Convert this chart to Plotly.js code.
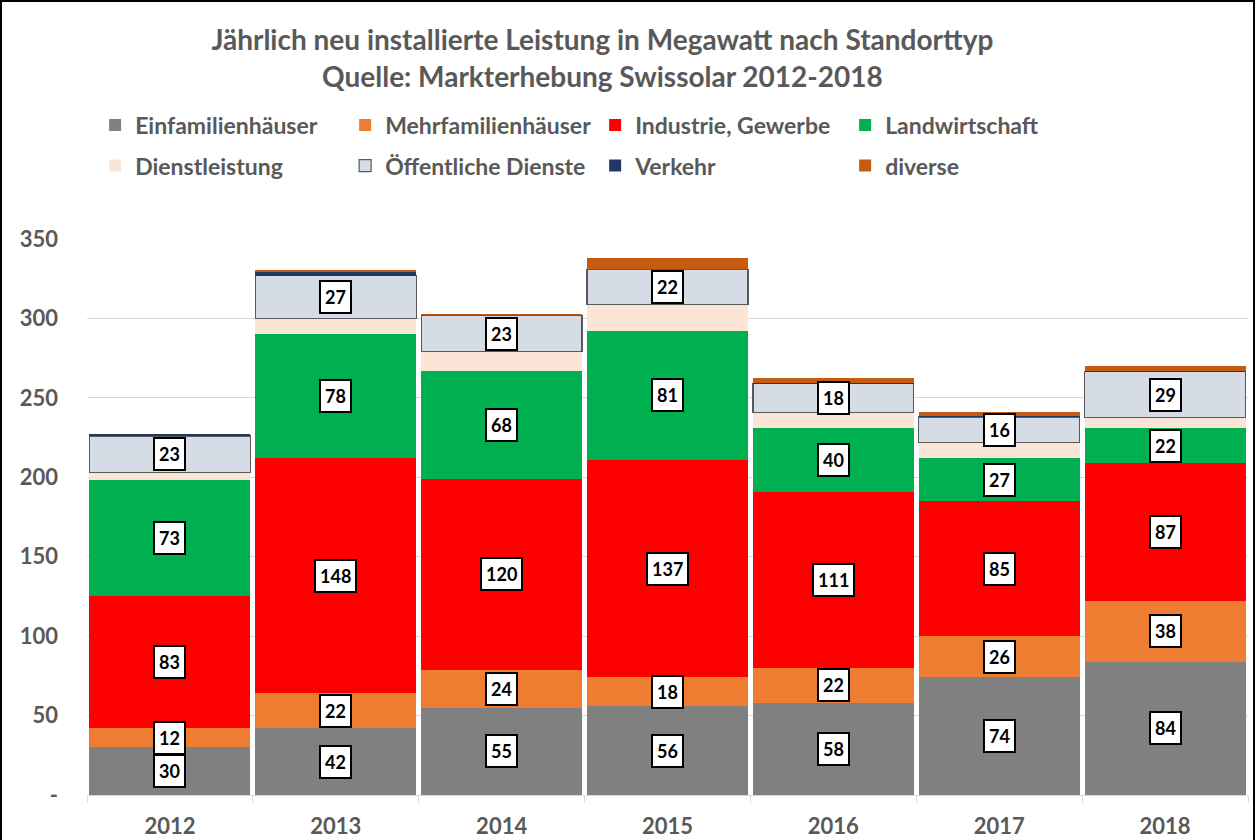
<!DOCTYPE html>
<html>
<head>
<meta charset="utf-8">
<script src="https://cdn.plot.ly/plotly-3.0.1.min.js"></script>
<style>
html,body{margin:0;padding:0;background:#fff;}
#chart{width:1255px;height:840px;}
#frame{position:absolute;left:0;top:0;width:1255px;height:840px;box-sizing:border-box;border:2px solid #000;border-bottom:none;pointer-events:none;}
</style>
</head>
<body>
<div id="chart"></div>
<div id="frame"></div>
<script>
// ---- data ----
const years = ['2012', '2013', '2014', '2015', '2016', '2017', '2018'];
const einfamilien = [30, 42, 55, 56, 58, 74, 84];
const mehrfamilien = [12, 22, 24, 18, 22, 26, 38];
const industrie = [83, 148, 120, 137, 111, 85, 87];
const landwirtschaft = [73, 78, 68, 81, 40, 27, 22];
const dienstleistung = [5, 10, 12, 17, 10, 10, 6.5];
const oeffentlich = [23, 27, 23, 22, 18, 16, 29];
const verkehr = [1, 2.5, 0, 0.2, 0.5, 0.3, 0.2];
const diverse = [0.3, 0.8, 0.7, 7, 3, 3, 3.5];

const seriesNames = ['Einfamilienhäuser', 'Mehrfamilienhäuser', 'Industrie, Gewerbe', 'Landwirtschaft',
  'Dienstleistung', 'Öffentliche Dienste', 'Verkehr', 'diverse'];
const seriesValues = [einfamilien, mehrfamilien, industrie, landwirtschaft, dienstleistung, oeffentlich, verkehr, diverse];
const seriesColors = ['#808080', '#ED7D31', '#FF0000', '#00B050', '#FBE5D6', '#D6DCE5', '#203864', '#C55A11'];
const labelled = [true, true, true, true, false, true, false, false];

const FONT = 'Lato, "Open Sans", sans-serif';
const GREY = '#595959';

const traces = seriesNames.map((name, i) => ({
  type: 'bar',
  name: name,
  x: years,
  y: seriesValues[i],
  legend: i < 4 ? 'legend' : 'legend2',
  marker: {
    color: seriesColors[i],
    line: { color: i === 5 ? '#595959' : seriesColors[i], width: i === 5 ? 1.2 : 0 }
  },
  hoverinfo: 'x+y+name'
}));

// labels at segment midpoints (x given as category index)
const annotations = [];
const cum = years.map(() => 0);
seriesValues.forEach((vals, i) => {
  vals.forEach((v, j) => {
    const mid = cum[j] + v / 2;
    cum[j] += v;
    if (labelled[i]) {
      annotations.push({
        x: j, y: mid, xref: 'x', yref: 'y',
        text: String(Math.round(v)),
        showarrow: false,
        bgcolor: '#ffffff',
        bordercolor: '#000000',
        borderwidth: 2,
        borderpad: 4,
        font: { family: FONT, size: 18, color: '#000', weight: 700 }
      });
    }
  });
});

const legendBase = {
  orientation: 'h',
  entrywidth: 205,
  entrywidthmode: 'pixels',
  traceorder: 'normal',
  xanchor: 'left',
  yanchor: 'middle',
  bgcolor: 'rgba(0,0,0,0)',
  font: { family: FONT, size: 23, color: GREY, weight: 700 },
  itemclick: false
};

const layout = {
  width: 1255,
  height: 840,
  paper_bgcolor: '#ffffff',
  plot_bgcolor: '#ffffff',
  barmode: 'stack',
  bargap: 0.03,
  margin: { l: 87, r: 7, t: 239, b: 45 },
  title: {
    text: 'Jährlich neu installierte Leistung in Megawatt nach Standorttyp<br>Quelle: Markterhebung Swissolar 2012-2018',
    x: 0.48, xanchor: 'center',
    y: 0.94, yanchor: 'top',
    font: { family: FONT, size: 28, color: GREY, weight: 700 }
  },
  legend: Object.assign({}, legendBase, { x: 0.007, y: 1.205 }),
  legend2: Object.assign({}, legendBase, { x: 0.007, y: 1.132 }),
  xaxis: {
    type: 'category',
    showgrid: false,
    showline: true,
    linecolor: '#D9D9D9',
    linewidth: 1,
    ticks: 'outside',
    tickson: 'boundaries',
    ticklen: 7,
    tickcolor: '#D9D9D9',
    ticklabelstandoff: 12,
    tickfont: { family: FONT, size: 22, color: GREY, weight: 700 }
  },
  yaxis: {
    range: [0, 350],
    tickvals: [0, 50, 100, 150, 200, 250, 300, 350],
    ticktext: ['-', '50', '100', '150', '200', '250', '300', '350'],
    showgrid: true,
    gridcolor: '#D9D9D9',
    gridwidth: 1,
    zeroline: false,
    showline: false,
    ticks: '',
    ticklabelstandoff: 28,
    tickfont: { family: FONT, size: 22, color: GREY, weight: 700 }
  },
  annotations: annotations,
  showlegend: true
};

Plotly.newPlot('chart', traces, layout, { displayModeBar: false, staticPlot: true });
</script>
</body>
</html>
